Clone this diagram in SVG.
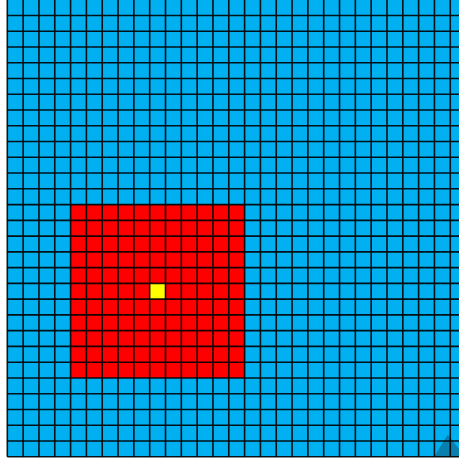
<svg xmlns="http://www.w3.org/2000/svg" width="459" height="458" viewBox="0 0 459 458">
<style>
.grid{fill:none;stroke:#000;stroke-width:1.6;stroke-opacity:0.9}
</style>
<rect x="0" y="0" width="459" height="458" fill="#ffffff"/>
<rect x="7.3" y="0" width="452" height="456.74" fill="#00b0f0"/>
<rect x="70.58" y="204.58" width="174.02" height="173.36" fill="#ff0000"/>
<rect x="149.68" y="283.38" width="15.82" height="15.76" fill="#ffff00"/>
<polygon points="434,456.74 447.7,434.7 459,449 459,456.74" fill="#0b6f96" fill-opacity="0.75"/>
<path class="grid" d="M7.3 0V456.74M23.12 0V456.74M38.94 0V456.74M54.76 0V456.74M70.58 0V456.74M86.4 0V456.74M102.22 0V456.74M118.04 0V456.74M133.86 0V456.74M149.68 0V456.74M165.5 0V456.74M181.32 0V456.74M197.14 0V456.74M212.96 0V456.74M228.78 0V456.74M244.6 0V456.74M260.42 0V456.74M276.24 0V456.74M292.06 0V456.74M307.88 0V456.74M323.7 0V456.74M339.52 0V456.74M355.34 0V456.74M371.16 0V456.74M386.98 0V456.74M402.8 0V456.74M418.62 0V456.74M434.44 0V456.74M450.26 0V456.74"/>
<path class="grid" d="M7.3 15.46H459M7.3 31.22H459M7.3 46.98H459M7.3 62.74H459M7.3 78.5H459M7.3 94.26H459M7.3 110.02H459M7.3 125.78H459M7.3 141.54H459M7.3 157.3H459M7.3 173.06H459M7.3 188.82H459M7.3 204.58H459M7.3 220.34H459M7.3 236.1H459M7.3 251.86H459M7.3 267.62H459M7.3 283.38H459M7.3 299.14H459M7.3 314.9H459M7.3 330.66H459M7.3 346.42H459M7.3 362.18H459M7.3 377.94H459M7.3 393.7H459M7.3 409.46H459M7.3 425.22H459M7.3 440.98H459M7.3 456.74H459"/>
</svg>
